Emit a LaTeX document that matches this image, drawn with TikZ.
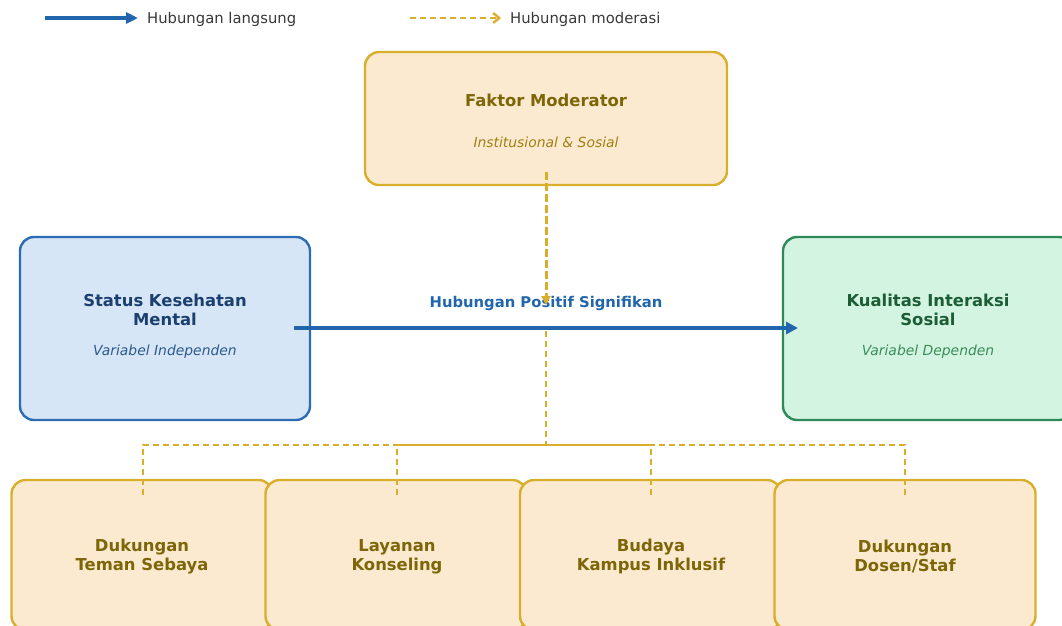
\documentclass[tikz,border=0pt]{standalone}
\usepackage{fontspec}
\setmainfont{DejaVu Sans}
\usetikzlibrary{arrows.meta}
\definecolor{goldb}{HTML}{D9AE2B}
\definecolor{cream}{HTML}{FCEAD0}
\definecolor{olive}{HTML}{7D6608}
\definecolor{olivesub}{HTML}{A08012}
\definecolor{blueb}{HTML}{2B6CB3}
\definecolor{bluef}{HTML}{D6E6F6}
\definecolor{bluet}{HTML}{1B3F6E}
\definecolor{blues}{HTML}{2C5A8C}
\definecolor{greenb}{HTML}{2E8B57}
\definecolor{greenf}{HTML}{D4F4E2}
\definecolor{greent}{HTML}{1B5E36}
\definecolor{greens}{HTML}{3A8C55}
\definecolor{arrowblue}{HTML}{2166AC}
\tikzset{
  box/.style={draw, line width=2.4pt, rounded corners=14pt, inner sep=0pt},
  modbox/.style={box, draw=goldb, fill=cream},
  title/.style={font=\fontsize{16.4}{19}\selectfont\bfseries, align=center, inner sep=0pt},
  subt/.style={font=\fontsize{13.9}{16}\selectfont\itshape, inner sep=0pt},
  legtext/.style={font=\fontsize{14.8}{17}\selectfont, text=black!78, anchor=west, inner sep=0pt},
  mainarrow/.style={draw=arrowblue, line width=4.5pt, -{Triangle[length=12pt,width=12pt]}},
  modline/.style={draw=goldb, line width=3pt, dash pattern=on 8pt off 3pt},
  modarrow/.style={modline, -{Triangle[length=9pt,width=9pt]}},
  branch/.style={draw=goldb, line width=1.8pt, dash pattern=on 6pt off 4pt},
}
\begin{document}
\begin{tikzpicture}[x=1pt,y=-1pt]
\useasboundingbox (0,0) rectangle (1062,625);
% legend
\coordinate (l1a) at (45,18); \coordinate (l1b) at (138,18);
\draw[draw=arrowblue, line width=4pt, -{Triangle[length=12pt,width=11pt]}] (l1a) -- (l1b);
\node[legtext] (lt1) at (147,19) {Hubungan langsung};
\coordinate (l2a) at (410,18); \coordinate (l2b) at (501,18);
\draw[draw=goldb, line width=2.4pt, dash pattern=on 6pt off 4pt, -{Straight Barb[length=6pt,width=10pt]}] (l2a) -- (l2b);
\node[legtext] (lt2) at (510,19) {Hubungan moderasi};
% boxes
\node[modbox, minimum width=362pt, minimum height=133pt] (M) at (546,118.5) {};
\node[title, text=olive] (Mt) at (546,100) {Faktor Moderator};
\node[subt, text=olivesub] (Ms) at (546,142) {Institusional \& Sosial};
\node[box, draw=blueb, fill=bluef, minimum width=290pt, minimum height=183pt] (L) at (165,328.5) {};
\node[title, text=bluet] (Lt) at (165,309.5) {Status Kesehatan\\Mental};
\node[subt, text=blues] (Ls) at (165,352) {Variabel Independen};
\node[box, draw=greenb, fill=greenf, minimum width=290pt, minimum height=183pt] (R) at (928,328.5) {};
\node[title, text=greent] (Rt) at (928,309.5) {Kualitas Interaksi\\Sosial};
\node[subt, text=greens] (Rs) at (928,352) {Variabel Dependen};
% bottom boxes
\node[modbox, minimum width=261pt, minimum height=150pt] (B1) at (142,555) {};
\node[modbox, minimum width=261pt, minimum height=150pt] (B2) at (396,555) {};
\node[modbox, minimum width=261pt, minimum height=150pt] (B3) at (650.5,555) {};
\node[modbox, minimum width=261pt, minimum height=150pt] (B4) at (905,555) {};
\node[title, text=olive] (B1t) at (142,556.5) {Dukungan\\Teman Sebaya};
\node[title, text=olive] (B2t) at (397,556.5) {Layanan\\Konseling};
\node[title, text=olive] (B3t) at (651,556.5) {Budaya\\Kampus Inklusif};
\node[title, text=olive] (B4t) at (905,556.5) {Dukungan\\Dosen/Staf};
% main arrow
\coordinate (as) at (294,328); \coordinate (ae) at (798,328);
\draw[mainarrow] (as) -- (ae);
\node[font=\fontsize{14.8}{17}\selectfont\bfseries, text=arrowblue, inner sep=0pt] (lab) at (546,303) {Hubungan Positif Signifikan};
% moderation
\coordinate (ms) at (546,172); \coordinate (me) at (546,305);
\draw[modarrow] (ms) -- (me);
\coordinate (j0) at (546,331); \coordinate (J) at (546,445);
\draw[branch] (j0) -- (J);
\coordinate (b1) at (143,495); \coordinate (b2) at (397,495);
\coordinate (b3) at (651,495); \coordinate (b4) at (905,495);
\draw[branch] (b1) |- (J);
\draw[branch] (b2) |- (J);
\draw[branch] (b3) |- (J);
\draw[branch] (b4) |- (J);
\end{tikzpicture}
\end{document}
